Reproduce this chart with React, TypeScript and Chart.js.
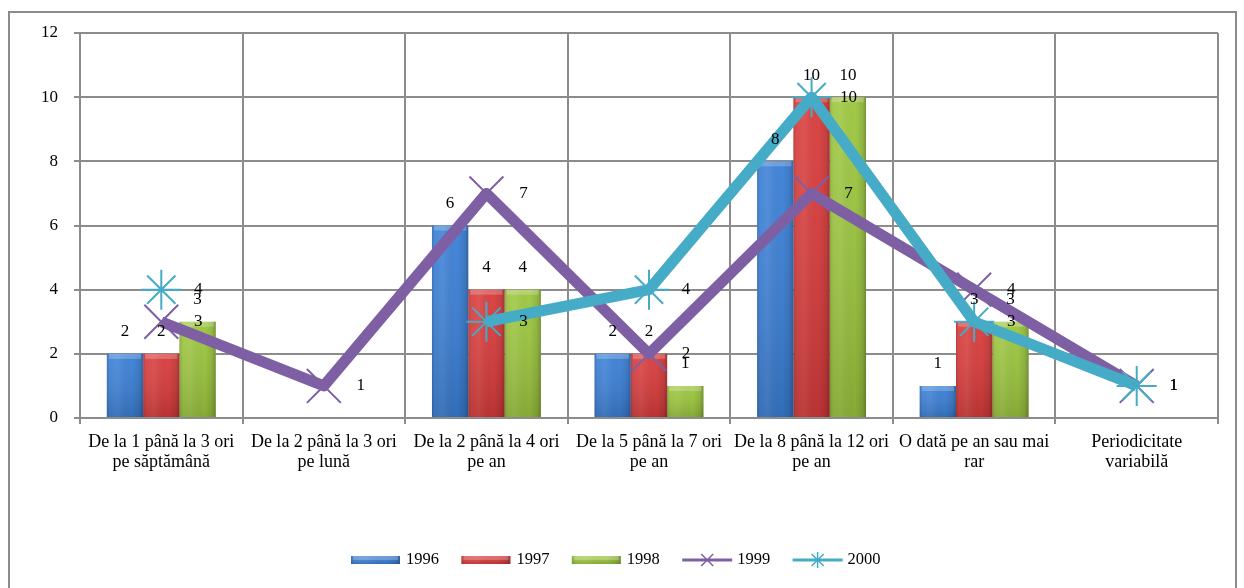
import React, { useEffect, useRef } from "react";
import { Chart, registerables } from "chart.js";

Chart.register(...registerables);

const categories: string[][] = [
  ["De la 1 până la 3 ori", "pe săptămână"],
  ["De la 2 până la 3 ori", "pe lună"],
  ["De la 2 până la 4 ori", "pe an"],
  ["De la 5 până la 7 ori", "pe an"],
  ["De la 8 până la 12 ori", "pe an"],
  ["O dată pe an sau mai", "rar"],
  ["Periodicitate", "variabilă"],
];

const seriesNames = ["1996", "1997", "1998", "1999", "2000"];
const values1996 = [2, null, 6, 2, 8, 1, null];
const values1997 = [2, null, 4, 2, 10, 3, null];
const values1998 = [3, null, 4, 1, 10, 3, null];
const values1999 = [3, 1, 7, 2, 7, 4, 1];
const values2000 = [4, null, 3, 4, 10, 3, 1];
const yTickValues = [0, 2, 4, 6, 8, 10, 12];

const BLUE = "#3a7fd6";
const RED = "#d93b3b";
const GREEN = "#9cc63e";
const PURPLE = "#7f5fa4";
const TEAL = "#45abc6";
const GRID = "#8c8c8c";
const FONT = "'Liberation Serif', 'Times New Roman', serif";

function shadeBar(ctx: CanvasRenderingContext2D, left: number, top: number, w: number, h: number) {
  if (h <= 0) return;
  ctx.save();
  const hg = ctx.createLinearGradient(left, 0, left + w, 0);
  hg.addColorStop(0, "rgba(0,0,0,0.15)");
  hg.addColorStop(0.12, "rgba(255,255,255,0.04)");
  hg.addColorStop(0.3, "rgba(255,255,255,0.08)");
  hg.addColorStop(0.7, "rgba(0,0,0,0.0)");
  hg.addColorStop(0.9, "rgba(0,0,0,0.10)");
  hg.addColorStop(1, "rgba(0,0,0,0.28)");
  ctx.fillStyle = hg;
  ctx.fillRect(left, top, w, h);
  const vg = ctx.createLinearGradient(0, top, 0, top + h);
  vg.addColorStop(0, "rgba(255,255,255,0.05)");
  vg.addColorStop(1, "rgba(0,0,0,0.14)");
  ctx.fillStyle = vg;
  ctx.fillRect(left, top, w, h);
  const bev = Math.min(5, h / 2);
  ctx.fillStyle = "rgba(255,255,255,0.22)";
  ctx.fillRect(left + 2, top, w - 4, bev);
  ctx.restore();
}

const barShadePlugin = {
  id: "barShade",
  afterDatasetDraw(chart: any, args: any) {
    const meta = args.meta;
    if (meta.type !== "bar") return;
    const ctx = chart.ctx;
    meta.data.forEach((el: any, i: number) => {
      const v = chart.data.datasets[args.index].data[i];
      if (v === null || v === undefined) return;
      const { x, y, base, width } = el.getProps(["x", "y", "base", "width"], true);
      shadeBar(ctx, x - width / 2, Math.min(y, base), width, Math.abs(base - y));
    });
  },
};

const labelPlugin = {
  id: "valueLabels",
  afterDatasetsDraw(chart: any) {
    const ctx = chart.ctx;
    ctx.save();
    ctx.font = `17px ${FONT}`;
    ctx.fillStyle = "#000";
    ctx.textBaseline = "middle";
    ctx.textAlign = "center";
    chart.data.datasets.forEach((ds: any, di: number) => {
      const meta = chart.getDatasetMeta(di);
      meta.data.forEach((el: any, i: number) => {
        const v = ds.data[i];
        if (v === null || v === undefined) return;
        if (meta.type === "bar") {
          ctx.fillText(String(v), el.x, el.y - 22);
        } else {
          ctx.fillText(String(v), el.x + 37, el.y);
        }
      });
    });
    ctx.restore();
  },
};

const frameLegendPlugin = {
  id: "frameLegend",
  beforeDraw(chart: any) {
    const ctx = chart.ctx;
    ctx.save();
    ctx.fillStyle = "#fff";
    ctx.fillRect(0, 0, chart.width, chart.height);
    ctx.strokeStyle = GRID;
    ctx.lineWidth = 2;
    ctx.strokeRect(9, 12, 1227, 620);
    ctx.restore();
  },
  afterDraw(chart: any) {
    const ctx = chart.ctx;
    const colors = [BLUE, RED, GREEN, PURPLE, TEAL];
    const yc = 560;
    const startX = 351;
    const step = 110.4;
    ctx.save();
    ctx.font = `16.5px ${FONT}`;
    ctx.textBaseline = "middle";
    ctx.textAlign = "left";
    seriesNames.forEach((name, i) => {
      const x0 = startX + i * step;
      if (i < 3) {
        ctx.fillStyle = colors[i];
        ctx.fillRect(x0, yc - 4, 49, 8);
        shadeBar(ctx, x0, yc - 4, 49, 8);
      } else {
        ctx.strokeStyle = colors[i];
        ctx.lineWidth = 3;
        ctx.beginPath();
        ctx.moveTo(x0, yc);
        ctx.lineTo(x0 + 50, yc);
        ctx.stroke();
        ctx.lineWidth = 1.5;
        const cx = x0 + 25;
        const r = 6;
        ctx.beginPath();
        ctx.moveTo(cx - r, yc - r);
        ctx.lineTo(cx + r, yc + r);
        ctx.moveTo(cx + r, yc - r);
        ctx.lineTo(cx - r, yc + r);
        if (i === 4) {
          ctx.moveTo(cx, yc - r - 2);
          ctx.lineTo(cx, yc + r + 2);
        }
        ctx.stroke();
      }
      ctx.fillStyle = "#000";
      ctx.fillText(name, x0 + 55, yc);
    });
    ctx.restore();
  },
};

export default function App() {
  const canvasRef = useRef<HTMLCanvasElement | null>(null);

  useEffect(() => {
    if (!canvasRef.current) return;
    Chart.defaults.font.family = FONT;
    Chart.defaults.font.size = 17;
    Chart.defaults.color = "#000";

    const barCommon = {
      type: "bar" as const,
      categoryPercentage: 0.67,
      barPercentage: 1.0,
      borderWidth: 0,
      order: 2,
    };

    const chart = new Chart(canvasRef.current, {
      type: "bar",
      data: {
        labels: categories,
        datasets: [
          { ...barCommon, label: seriesNames[0], data: values1996, backgroundColor: BLUE },
          { ...barCommon, label: seriesNames[1], data: values1997, backgroundColor: RED },
          { ...barCommon, label: seriesNames[2], data: values1998, backgroundColor: GREEN },
          {
            type: "line",
            label: seriesNames[3],
            data: values1999,
            borderColor: PURPLE,
            backgroundColor: PURPLE,
            borderWidth: 11,
            borderJoinStyle: "round",
            pointStyle: "crossRot",
            pointRadius: 24,
            pointBorderWidth: 2,
            pointBorderColor: PURPLE,
            spanGaps: false,
            order: 1,
          } as any,
          {
            type: "line",
            label: seriesNames[4],
            data: values2000,
            borderColor: TEAL,
            backgroundColor: TEAL,
            borderWidth: 11,
            borderJoinStyle: "round",
            pointStyle: "star",
            pointRadius: 20,
            pointBorderWidth: 2,
            pointBorderColor: TEAL,
            spanGaps: false,
            order: 0,
          } as any,
        ],
      },
      options: {
        animation: false,
        responsive: true,
        maintainAspectRatio: false,
        layout: { padding: { left: 0, top: 33, right: 24, bottom: 0 } },
        plugins: {
          legend: { display: false },
          tooltip: { enabled: false },
        },
        scales: {
          x: {
            offset: true,
            grid: {
              offset: true,
              color: GRID,
              lineWidth: 2,
              tickLength: 6,
              drawTicks: true,
            },
            border: { color: GRID, width: 2 },
            ticks: {
              maxRotation: 0,
              autoSkip: false,
              padding: 8,
              font: { size: 18, lineHeight: 1.12 },
              color: "#000",
            },
            afterFit(scale: any) {
              scale.height = 170;
            },
          },
          y: {
            min: 0,
            max: 12,
            grid: { color: GRID, lineWidth: 2, tickLength: 6 },
            border: { color: GRID, width: 2 },
            ticks: {
              stepSize: 2,
              padding: 16,
              color: "#000",
              font: { size: 17 },
              callback: (v: any) => (yTickValues.includes(Number(v)) ? String(v) : ""),
            },
            afterFit(scale: any) {
              scale.width = 80;
            },
          },
        },
      },
      plugins: [frameLegendPlugin, barShadePlugin, labelPlugin],
    });

    return () => chart.destroy();
  }, []);

  return (
    <div style={{ position: "absolute", left: 0, top: 0, width: 1244, height: 588 }}>
      <canvas ref={canvasRef} />
    </div>
  );
}
